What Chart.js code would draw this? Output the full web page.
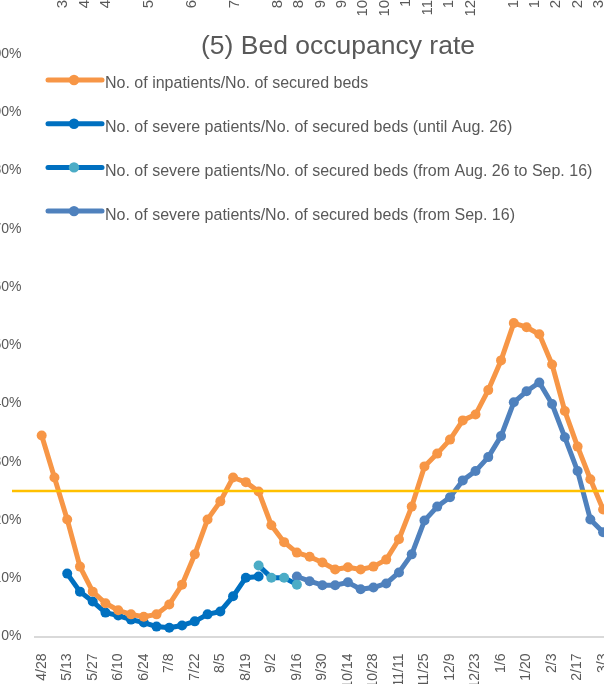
<!DOCTYPE html>
<html>
<head>
<meta charset="utf-8">
<script src="https://cdn.jsdelivr.net/npm/chart.js@4.4.1/dist/chart.umd.min.js"></script>
<style>
  html, body { margin: 0; padding: 0; background: #fff; }
  #wrap { position: relative; width: 604px; height: 684px; overflow: hidden; }
  #chart { position: absolute; left: -20px; top: 0; }
</style>
</head>
<body>
<div id="wrap"><canvas id="chart" width="640" height="684"></canvas></div>
<script>
// weekly categories (every other one is labelled on the axis)
const weeks = ['4/28', '5/6', '5/13', '5/20', '5/27', '6/3', '6/10', '6/17', '6/24', '7/1',
  '7/8', '7/15', '7/22', '7/29', '8/5', '8/12', '8/19', '8/26', '9/2', '9/9',
  '9/16', '9/23', '9/30', '10/7', '10/14', '10/21', '10/28', '11/4', '11/11', '11/18',
  '11/25', '12/2', '12/9', '12/16', '12/23', '12/30', '1/6', '1/13', '1/20', '1/27',
  '2/3', '2/10', '2/17', '2/24', '3/3'];

const inpatients = [34.5, 27.3, 20.1, 12.0, 7.7, 5.7, 4.5, 3.8, 3.4, 3.8,
  5.5, 8.9, 14.1, 20.1, 23.2, 27.3, 26.5, 24.9, 19.1, 16.2,
  14.4, 13.7, 12.7, 11.5, 11.9, 11.5, 12.0, 13.2, 16.7, 22.3,
  29.2, 31.4, 33.8, 37.1, 38.1, 42.3, 47.4, 53.8, 53.1, 51.9,
  46.7, 38.7, 32.6, 27.0, 21.8];

const severeUntilAug26 = [null, null, 10.8, 7.7, 6.0, 4.1, 3.6, 2.9, 2.4, 1.7,
  1.5, 1.9, 2.6, 3.8, 4.3, 6.9, 10.1, 10.3];

const severeAug26toSep16 = [null, null, null, null, null, null, null, null, null, null,
  null, null, null, null, null, null, null, 12.2, 10.1, 10.1, 8.9];

const severeFromSep16 = [null, null, null, null, null, null, null, null, null, null,
  null, null, null, null, null, null, null, null, null, null,
  10.3, 9.5, 8.8, 8.8, 9.3, 8.1, 8.4, 9.1, 11.0, 14.1,
  19.9, 22.3, 23.9, 26.8, 28.4, 30.8, 34.4, 40.2, 42.1, 43.6,
  39.9, 34.2, 28.4, 20.1, 17.9];

const yTicks = [0, 10, 20, 30, 40, 50, 60, 70, 80, 90, 100];
const threshold = 25;

// bottom edge of the chart above, cut off at the top of the picture
const prevChartLabels = ['3/31', '4/14', '4/28', '5/9', '5/26', '6/9', '6/23', '7/7', '7/21', '8/4',
  '8/18', '8/25', '9/15', '9/29', '10/13', '10/27', '11/3', '11/17', '12/1', '12/15',
  '1/5', '1/12', '1/26', '2/16', '2/23', '3/15'];

const title = '(5) Bed occupancy rate';
const FONT = '"Liberation Sans", Arial, sans-serif';
const GREY = '#595959';
const SHIFT = 20; // canvas starts 20px left of the page

Chart.defaults.font.family = FONT;

const extras = {
  id: 'extras',
  afterDatasetsDraw(chart) {
    const ctx = chart.ctx;
    const y = chart.scales.y.getPixelForValue(threshold);
    ctx.save();
    ctx.strokeStyle = '#FFC000';
    ctx.lineWidth = 2.5;
    ctx.beginPath();
    ctx.moveTo(12 + SHIFT, y);
    ctx.lineTo(chart.width, y);
    ctx.stroke();
    ctx.restore();
  },
  afterDraw(chart) {
    const ctx = chart.ctx;
    ctx.save();
    ctx.fillStyle = GREY;
    ctx.font = '26.5px ' + FONT;
    ctx.textAlign = 'center';
    ctx.textBaseline = 'middle';
    ctx.fillText(title, 338 + SHIFT, 47);

    // legend
    chart.data.datasets.forEach((ds, i) => {
      const ly = 80 + 43.7 * i;
      ctx.strokeStyle = ds.borderColor;
      ctx.lineWidth = 5;
      ctx.lineCap = 'round';
      ctx.beginPath();
      ctx.moveTo(48 + SHIFT, ly);
      ctx.lineTo(102 + SHIFT, ly);
      ctx.stroke();
      ctx.fillStyle = ds.pointBackgroundColor;
      ctx.beginPath();
      ctx.arc(74 + SHIFT, ly, 5.2, 0, Math.PI * 2);
      ctx.fill();
      ctx.fillStyle = GREY;
      ctx.font = '16px ' + FONT;
      ctx.textAlign = 'left';
      ctx.textBaseline = 'middle';
      ctx.fillText(ds.label, 105 + SHIFT, ly + 4);
    });

    // labels of the chart above
    ctx.font = '15px ' + FONT;
    ctx.textAlign = 'right';
    ctx.textBaseline = 'middle';
    prevChartLabels.forEach((t, k) => {
      ctx.save();
      ctx.translate(63 + 21.45 * k + SHIFT, -21);
      ctx.rotate(-Math.PI / 2);
      ctx.fillText(t, 0, 0);
      ctx.restore();
    });
    ctx.restore();
  }
};

new Chart(document.getElementById('chart'), {
  type: 'line',
  data: {
    labels: weeks,
    datasets: [
      {
        label: 'No. of inpatients/No. of secured beds',
        data: inpatients,
        borderColor: '#F79646',
        pointBackgroundColor: '#F79646'
      },
      {
        label: 'No. of severe patients/No. of secured beds (until Aug. 26)',
        data: severeUntilAug26,
        borderColor: '#0070C0',
        pointBackgroundColor: '#0070C0'
      },
      {
        label: 'No. of severe patients/No. of secured beds (from Aug. 26 to Sep. 16)',
        data: severeAug26toSep16,
        borderColor: '#0070C0',
        pointBackgroundColor: '#4BACC6'
      },
      {
        label: 'No. of severe patients/No. of secured beds (from Sep. 16)',
        data: severeFromSep16,
        borderColor: '#4F81BD',
        pointBackgroundColor: '#4F81BD'
      }
    ]
  },
  options: {
    responsive: false,
    animation: false,
    events: [],
    layout: { padding: { top: 54, right: 10.5, left: 0, bottom: 0 } },
    elements: {
      line: { borderWidth: 5, tension: 0, borderCapStyle: 'round', borderJoinStyle: 'round' },
      point: { radius: 5, borderWidth: 0 }
    },
    plugins: { legend: { display: false }, tooltip: { enabled: false }, title: { display: false } },
    scales: {
      x: {
        offset: true,
        grid: { display: false },
        border: { display: true, color: '#D9D9D9', width: 2 },
        afterFit(s) { s.height = 47.5; s.paddingLeft = 0; s.paddingRight = 0; },
        ticks: {
          autoSkip: false,
          minRotation: 90,
          maxRotation: 90,
          padding: 9,
          color: GREY,
          font: { size: 14 },
          callback: (v, i) => (i % 2 === 0 ? weeks[i] : '')
        }
      },
      y: {
        min: 0,
        max: 100,
        grid: { display: false, drawTicks: false },
        border: { display: false },
        afterFit(s) { s.width = 55.3; s.paddingTop = 0; s.paddingBottom = 0; },
        afterBuildTicks(s) { s.ticks = yTicks.map(v => ({ value: v })); },
        ticks: {
          padding: 13.8,
          color: GREY,
          font: { size: 14 },
          callback: v => v + '%'
        }
      }
    }
  },
  plugins: [extras]
});
</script>
</body>
</html>
